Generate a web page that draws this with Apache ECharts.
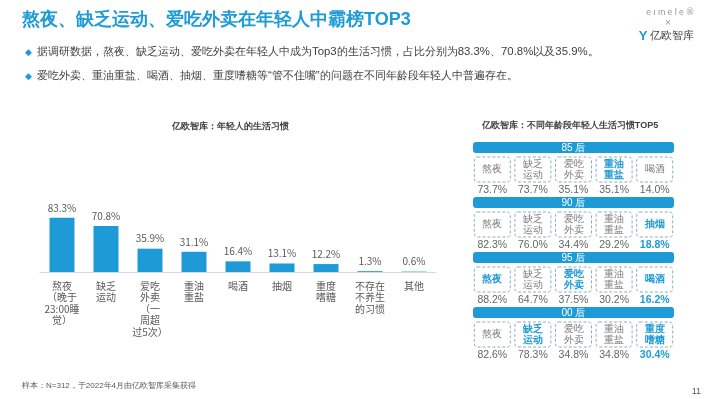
<!DOCTYPE html>
<html>
<head>
<meta charset="utf-8">
<script src="https://cdn.jsdelivr.net/npm/echarts@6/dist/echarts.min.js"></script>
<style>
  html, body { margin: 0; padding: 0; background: #fff; }
  #main { width: 710px; height: 399px; }
</style>
</head>
<body>
<div id="main"></div>
<script>
// 左图：年轻人的生活习惯
const habitNames = ['熬夜\n（晚于\n23:00睡\n觉）', '缺乏\n运动', '爱吃\n外卖\n（一\n周超\n过5次）', '重油\n重盐', '喝酒', '抽烟', '重度\n嗜糖', '不存在\n不养生\n的习惯', '其他'];
const habitShares = [83.3, 70.8, 35.9, 31.1, 16.4, 13.1, 12.2, 1.3, 0.6];

// 右图：不同年龄段 TOP5
const ageGroups = ['85 后', '90 后', '95 后', '00 后'];
const topNames85 = ['熬夜', '缺乏\n运动', '爱吃\n外卖', '重油\n重盐', '喝酒'];
const topNames90 = ['熬夜', '缺乏\n运动', '爱吃\n外卖', '重油\n重盐', '抽烟'];
const topNames95 = ['熬夜', '缺乏\n运动', '爱吃\n外卖', '重油\n重盐', '喝酒'];
const topNames00 = ['熬夜', '缺乏\n运动', '爱吃\n外卖', '重油\n重盐', '重度\n嗜糖'];
const topShares85 = [73.7, 73.7, 35.1, 35.1, 14.0];
const topShares90 = [82.3, 76.0, 34.4, 29.2, 18.8];
const topShares95 = [88.2, 64.7, 37.5, 30.2, 16.2];
const topShares00 = [82.6, 78.3, 34.8, 34.8, 30.4];
// 高亮（蓝色加粗）的格子
const nameHighlight = [[3], [4], [0, 2, 4], [1, 4]];
const shareHighlight = [[], [4], [4], [4]];

const BLUE = '#1e9bd7';
const GRAY = '#595959';

const topNames = [topNames85, topNames90, topNames95, topNames00];
const topShares = [topShares85, topShares90, topShares95, topShares00];

const cellData = [];
topNames.forEach(function (names, row) {
  names.forEach(function (n, col) {
    cellData.push([col, row, n, topShares[row][col],
      nameHighlight[row].indexOf(col) >= 0 ? 1 : 0,
      shareHighlight[row].indexOf(col) >= 0 ? 1 : 0]);
  });
});
const headerData = ageGroups.map(function (g, row) { return [2, row, g]; });

const chart = echarts.init(document.getElementById('main'), null, { renderer: 'canvas' });

chart.setOption({
  backgroundColor: '#fff',
  animation: false,
  textStyle: { fontFamily: '"Noto Sans CJK SC", "Noto Sans", sans-serif' },
  grid: [
    { left: 40, width: 396, top: 207, height: 65 },
    { left: 472, width: 203, top: 142, height: 220 }
  ],
  xAxis: [
    {
      type: 'category', gridIndex: 0, data: habitNames,
      axisLine: { lineStyle: { color: '#d9d9d9' } },
      axisTick: { show: false },
      axisLabel: { color: GRAY, fontSize: 10, lineHeight: 11.5, margin: 8, interval: 0 }
    },
    {
      type: 'category', gridIndex: 1, data: [0, 1, 2, 3, 4], show: false
    }
  ],
  yAxis: [
    { type: 'value', gridIndex: 0, min: 0, max: 100, show: false },
    { type: 'category', gridIndex: 1, data: ageGroups, inverse: true, show: false }
  ],
  series: [
    {
      type: 'bar', xAxisIndex: 0, yAxisIndex: 0,
      data: habitShares, barWidth: 25,
      itemStyle: { color: BLUE },
      label: {
        show: true, position: 'top', distance: 5, color: GRAY, fontSize: 10,
        formatter: function (p) { return p.value.toFixed(1) + '%'; }
      }
    },
    {
      type: 'custom', xAxisIndex: 1, yAxisIndex: 1,
      data: headerData,
      renderItem: function (params, api) {
        const c = api.coord([api.value(0), api.value(1)]);
        const sz = api.size([1, 1]);
        const top = c[1] - sz[1] / 2;
        const cs = params.coordSys;
        return {
          type: 'group',
          children: [
            { type: 'rect', shape: { x: cs.x + 1, y: top, width: cs.width - 2, height: 11, r: 3 }, style: { fill: BLUE } },
            { type: 'text', style: { text: api.value(2), x: cs.x + cs.width / 2, y: top + 6, fill: '#fff', fontSize: 10, align: 'center', verticalAlign: 'middle' } }
          ]
        };
      }
    },
    {
      type: 'custom', xAxisIndex: 1, yAxisIndex: 1,
      data: cellData,
      encode: { x: 0, y: 1 },
      renderItem: function (params, api) {
        const d = cellData[params.dataIndex];
        const c = api.coord([d[0], d[1]]);
        const sz = api.size([1, 1]);
        const top = c[1] - sz[1] / 2;
        return {
          type: 'group',
          children: [
            {
              type: 'rect',
              shape: { x: c[0] - 18, y: top + 15, width: 36, height: 25, r: 3 },
              style: { fill: '#fff', stroke: '#8aaec2', lineWidth: 1, lineDash: [3, 2] }
            },
            {
              type: 'text',
              style: {
                text: d[2], x: c[0], y: top + 27.5, align: 'center', verticalAlign: 'middle',
                fontSize: 10, lineHeight: 11.5, fill: d[4] ? BLUE : '#7a7a7a', fontWeight: d[4] ? 'bold' : 'normal'
              }
            },
            {
              type: 'text',
              style: {
                text: d[3].toFixed(1) + '%', x: c[0], y: top + 48.5, align: 'center', verticalAlign: 'middle',
                fontSize: 10.5, fill: d[5] ? BLUE : '#666', fontWeight: d[5] ? 'bold' : 'normal'
              }
            }
          ]
        };
      }
    }
  ],
  graphic: [
    { type: 'text', left: 22, top: 11, style: { text: '熬夜、缺乏运动、爱吃外卖在年轻人中霸榜TOP3', fill: BLUE, fontSize: 18, fontWeight: 'bold' } },
    { type: 'text', left: 25, top: 48, style: { text: '◆', fill: BLUE, fontSize: 9 } },
    { type: 'text', left: 37, top: 46, style: { text: '据调研数据，熬夜、缺乏运动、爱吃外卖在年轻人中成为Top3的生活习惯，占比分别为83.3%、70.8%以及35.9%。', fill: '#404040', fontSize: 11.4 } },
    { type: 'text', left: 25, top: 72, style: { text: '◆', fill: BLUE, fontSize: 9 } },
    { type: 'text', left: 37, top: 70, style: { text: '爱吃外卖、重油重盐、喝酒、抽烟、重度嗜糖等“管不住嘴”的问题在不同年龄段年轻人中普遍存在。', fill: '#404040', fontSize: 11.4 } },
    { type: 'text', x: 230, y: 127, style: { text: '亿欧智库：年轻人的生活习惯', fill: '#404040', fontSize: 9, fontWeight: 'bold', align: 'center', verticalAlign: 'middle' } },
    { type: 'text', x: 570, y: 126, style: { text: '亿欧智库：不同年龄段年轻人生活习惯TOP5', fill: '#404040', fontSize: 9, fontWeight: 'bold', align: 'center', verticalAlign: 'middle' } },
    { type: 'text', x: 22, y: 386, style: { text: '样本：N=312，于2022年4月由亿欧智库采集获得', fill: '#595959', fontSize: 8, verticalAlign: 'middle' } },
    { type: 'text', x: 701, y: 392, style: { text: '11', fill: '#595959', fontSize: 9, align: 'right', verticalAlign: 'middle' } },
    // logo
    { type: 'text', x: 670, y: 12, style: { text: 'e ı m e l e ®', fill: '#9a9a9a', fontSize: 9, align: 'center', verticalAlign: 'middle', fontFamily: 'Lato' } },
    { type: 'text', x: 668, y: 23, style: { text: '×', fill: '#9a9a9a', fontSize: 10, align: 'center', verticalAlign: 'middle' } },
    { type: 'text', x: 643, y: 36, style: { text: 'Y', fill: BLUE, fontSize: 13, fontWeight: 'bold', align: 'center', verticalAlign: 'middle' } },
    { type: 'text', x: 650, y: 36, style: { text: '亿欧智库', fill: '#404040', fontSize: 11, verticalAlign: 'middle' } }
  ]
});
</script>
</body>
</html>
